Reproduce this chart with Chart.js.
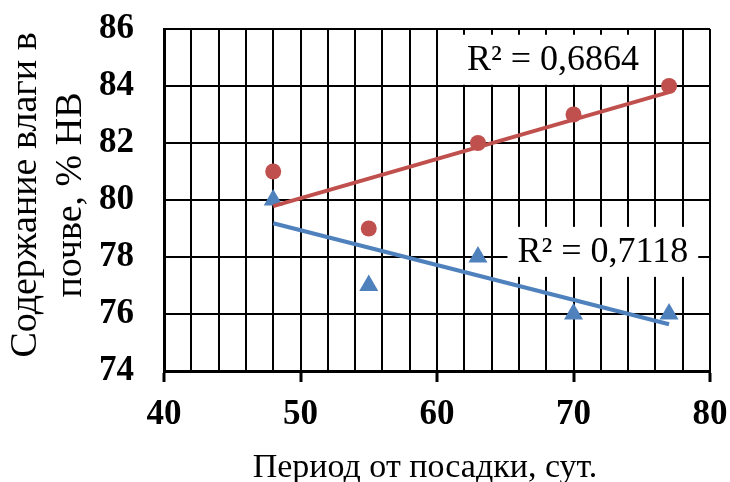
<!DOCTYPE html>
<html>
<head>
<meta charset="utf-8">
<script src="https://cdn.jsdelivr.net/npm/chart.js@4/dist/chart.umd.min.js"></script>
<style>
  html, body { margin: 0; padding: 0; background: #fff; }
  #wrap { width: 730px; height: 482px; }
</style>
</head>
<body>
<div id="wrap"><canvas id="c" width="730" height="482"></canvas></div>
<script>
// Days after planting and soil moisture (% of field capacity) for two variants
const days = [48, 55, 63, 70, 77];
const moistureRed = [81, 79, 82, 83, 84];
const moistureBlue = [80, 77, 78, 76, 76];
const xTicks = [40, 50, 60, 70, 80];
const yTicks = [74, 76, 78, 80, 82, 84, 86];
const xTitle = 'Период от посадки, сут.';
const yTitle = ['Содержание влаги в', 'почве, % НВ'];

const RED = '#C0504D';
const BLUE = '#4F81BD';
const SERIF = '"Liberation Serif", "Times New Roman", serif';

// Least-squares linear trend and its coefficient of determination
function fit(xs, ys) {
  const n = xs.length;
  const mx = xs.reduce((a, b) => a + b, 0) / n;
  const my = ys.reduce((a, b) => a + b, 0) / n;
  let sxy = 0, sxx = 0, syy = 0;
  for (let i = 0; i < n; i++) {
    sxy += (xs[i] - mx) * (ys[i] - my);
    sxx += (xs[i] - mx) ** 2;
    syy += (ys[i] - my) ** 2;
  }
  const slope = sxy / sxx;
  const icpt = my - slope * mx;
  return { slope, icpt, r2: (sxy * sxy) / (sxx * syy) };
}
const fitRed = fit(days, moistureRed);
const fitBlue = fit(days, moistureBlue);
const x0 = days[0], x1 = days[days.length - 1];
const trendPts = f => [{ x: x0, y: f.slope * x0 + f.icpt }, { x: x1, y: f.slope * x1 + f.icpt }];
const r2Text = f => 'R² = ' + f.r2.toFixed(4).replace('.', ',');

// Text boxes for R² values, anchored in data coordinates
const r2Labels = [
  { text: r2Text(fitRed), x: 68.5, y: 84.92 },
  { text: r2Text(fitBlue), x: 72.15, y: 78.18 }
];

const r2Plugin = {
  id: 'r2Labels',
  afterDatasetsDraw(chart) {
    const { ctx, scales } = chart;
    ctx.save();
    ctx.font = '36px ' + SERIF;
    ctx.textAlign = 'center';
    ctx.textBaseline = 'middle';
    r2Labels.forEach(l => {
      const px = scales.x.getPixelForValue(l.x);
      const py = scales.y.getPixelForValue(l.y);
      const w = ctx.measureText(l.text).width + 20;
      const h = 50;
      ctx.fillStyle = '#fff';
      ctx.fillRect(px - w / 2, py - h / 2, w, h);
      ctx.fillStyle = '#000';
      ctx.fillText(l.text, px, py + 1);
    });
    ctx.restore();
  }
};

// Axis titles, drawn in the space reserved by the scales
const titlePlugin = {
  id: 'axisTitles',
  afterDraw(chart) {
    const { ctx } = chart;
    ctx.save();
    ctx.fillStyle = '#000';
    ctx.textAlign = 'center';
    ctx.textBaseline = 'alphabetic';
    ctx.font = '34px ' + SERIF;
    ctx.fillText(xTitle, 425, 477);
    ctx.translate(0, 195);
    ctx.rotate(-Math.PI / 2);
    ctx.font = '38px ' + SERIF;
    ctx.fillText(yTitle[0], 0, 36);
    ctx.fillText(yTitle[1], 0, 81);
    ctx.restore();
  }
};

const pts = (xs, ys) => xs.map((x, i) => ({ x, y: ys[i] }));

new Chart(document.getElementById('c'), {
  type: 'scatter',
  data: {
    datasets: [
      {
        data: pts(days, moistureRed),
        pointStyle: 'circle', pointRadius: 8, pointHoverRadius: 8,
        backgroundColor: RED, borderColor: RED, borderWidth: 0, order: 2
      },
      {
        data: pts(days, moistureBlue),
        pointStyle: 'triangle', pointRadius: 11, pointHoverRadius: 11,
        backgroundColor: BLUE, borderColor: BLUE, borderWidth: 0, order: 2
      },
      {
        type: 'line', data: trendPts(fitRed),
        borderColor: RED, borderWidth: 4, pointRadius: 0, fill: false, order: 1
      },
      {
        type: 'line', data: trendPts(fitBlue),
        borderColor: BLUE, borderWidth: 4, pointRadius: 0, fill: false, order: 1
      }
    ]
  },
  options: {
    responsive: false,
    animation: false,
    events: [],
    layout: { padding: { top: 29, right: 20, left: 0, bottom: 0 } },
    plugins: { legend: { display: false }, tooltip: { enabled: false } },
    scales: {
      x: {
        type: 'linear', min: 40, max: 80,
        afterFit(s) { s.height = 111; s.paddingLeft = 0; s.paddingRight = 0; },
        ticks: {
          stepSize: 2, autoSkip: false, maxRotation: 0, padding: 12,
          color: '#000',
          font: { family: SERIF, size: 35, weight: 'bold' },
          callback: v => (xTicks.includes(v) ? String(v) : '')
        },
        grid: {
          color: '#000', lineWidth: 2, tickLength: 11, tickWidth: 3,
          tickColor: c => (c.tick && xTicks.includes(c.tick.value) ? '#000' : 'rgba(0,0,0,0)')
        },
        border: { color: '#000', width: 3 }
      },
      y: {
        min: 74, max: 86,
        afterFit(s) { s.width = 164; s.paddingTop = 0; s.paddingBottom = 0; },
        ticks: {
          stepSize: 2, padding: 30, color: '#000',
          font: { family: SERIF, size: 35, weight: 'bold' },
          callback: v => (yTicks.includes(v) ? String(v) : '')
        },
        grid: { color: '#000', lineWidth: 2, drawTicks: false },
        border: { color: '#000', width: 3 }
      }
    }
  },
  plugins: [r2Plugin, titlePlugin]
});
</script>
</body>
</html>
